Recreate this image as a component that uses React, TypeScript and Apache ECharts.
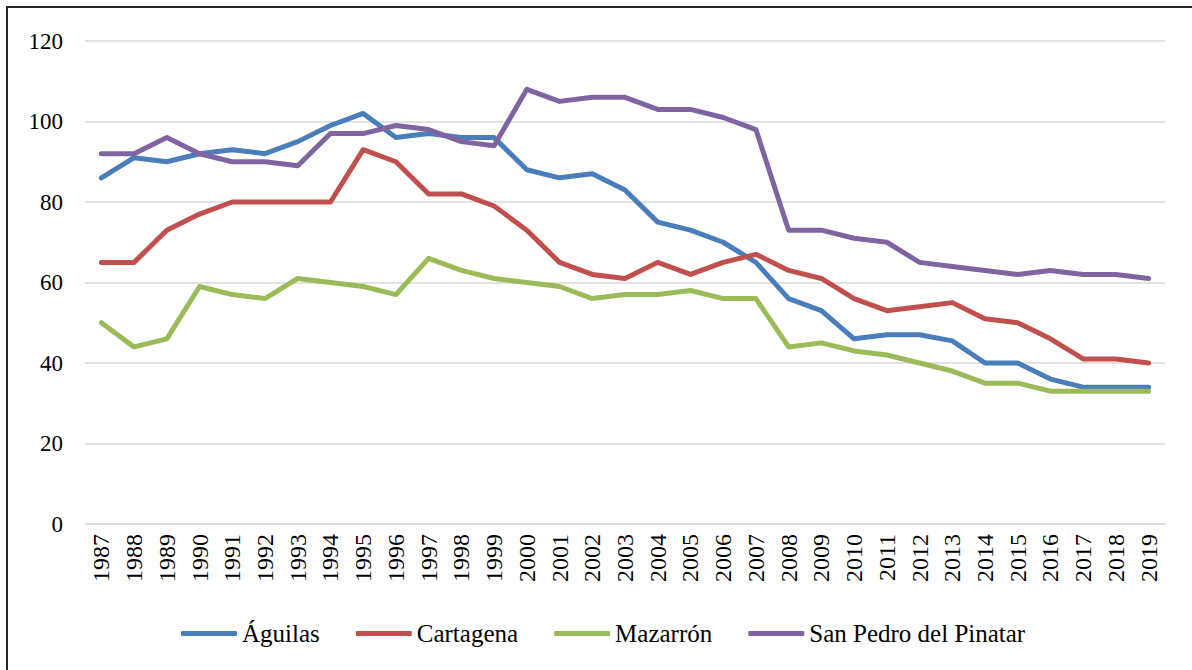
import React, { useEffect, useRef } from "react";
import * as echarts from "echarts";

const years = [
  "1987", "1988", "1989", "1990", "1991", "1992", "1993", "1994", "1995", "1996", "1997",
  "1998", "1999", "2000", "2001", "2002", "2003", "2004", "2005", "2006", "2007", "2008",
  "2009", "2010", "2011", "2012", "2013", "2014", "2015", "2016", "2017", "2018", "2019",
];

const aguilas = [86, 91, 90, 92, 93, 92, 95, 99, 102, 96, 97, 96, 96, 88, 86, 87, 83, 75, 73, 70, 65, 56, 53, 46, 47, 47, 45.5, 40, 40, 36, 34, 34, 34];
const cartagena = [65, 65, 73, 77, 80, 80, 80, 80, 93, 90, 82, 82, 79, 73, 65, 62, 61, 65, 62, 65, 67, 63, 61, 56, 53, 54, 55, 51, 50, 46, 41, 41, 40];
const mazarron = [50, 44, 46, 59, 57, 56, 61, 60, 59, 57, 66, 63, 61, 60, 59, 56, 57, 57, 58, 56, 56, 44, 45, 43, 42, 40, 38, 35, 35, 33, 33, 33, 33];
const sanPedro = [92, 92, 96, 92, 90, 90, 89, 97, 97, 99, 98, 95, 94, 108, 105, 106, 106, 103, 103, 101, 98, 73, 73, 71, 70, 65, 64, 63, 62, 63, 62, 62, 61];

const seriesNames = ["Águilas", "Cartagena", "Mazarrón", "San Pedro del Pinatar"];
const seriesColors = ["#4a7ebb", "#c0504d", "#9bbb59", "#8064a2"];
const seriesData = [aguilas, cartagena, mazarron, sanPedro];

const FONT = "Liberation Serif";

export default function App() {
  const ref = useRef<HTMLDivElement>(null);

  useEffect(() => {
    if (!ref.current) return;
    const chart = echarts.init(ref.current, undefined, { renderer: "svg" });
    chart.setOption({
      animation: false,
      backgroundColor: "#ffffff",
      textStyle: { fontFamily: FONT },
      grid: { left: 85, right: 27, top: 41, bottom: 146, containLabel: false },
      graphic: [
        {
          type: "rect",
          shape: { x: 7, y: 7, width: 1200, height: 700 },
          style: { fill: "none", stroke: "#262626", lineWidth: 2 },
          silent: true,
        },
      ],
      legend: {
        data: seriesNames,
        left: 176,
        top: 616,
        icon: "roundRect",
        itemWidth: 56,
        itemHeight: 5,
        itemGap: 36,
        formatter: "{t|{name}}",
        textStyle: {
          fontFamily: FONT,
          fontSize: 25,
          color: "#000",
          rich: { t: { fontFamily: FONT, fontSize: 25, color: "#000" } },
        },
      },
      xAxis: {
        type: "category",
        data: years,
        boundaryGap: true,
        axisLine: { show: true, lineStyle: { color: "#d9d9d9", width: 1.5 } },
        axisTick: { show: false },
        axisLabel: {
          interval: 0,
          rotate: 90,
          margin: 10,
          formatter: "{t|{value}}",
          fontFamily: FONT,
          fontSize: 24,
          color: "#000",
          rich: { t: { fontFamily: FONT, fontSize: 24, color: "#000" } },
        },
      },
      yAxis: {
        type: "value",
        min: 0,
        max: 120,
        interval: 20,
        axisLine: { show: false },
        axisTick: { show: false },
        splitLine: { show: true, lineStyle: { color: "#d9d9d9", width: 1.5 } },
        axisLabel: {
          margin: 22,
          formatter: "{t|{value}}",
          fontFamily: FONT,
          fontSize: 23,
          color: "#000",
          rich: { t: { fontFamily: FONT, fontSize: 23, color: "#000" } },
        },
      },
      series: seriesNames.map((name, i) => ({
        name,
        type: "line",
        data: seriesData[i],
        symbol: "none",
        showSymbol: false,
        color: seriesColors[i],
        lineStyle: { color: seriesColors[i], width: 5, cap: "round", join: "round" },
        itemStyle: { color: seriesColors[i] },
      })),
    });
    return () => chart.dispose();
  }, []);

  return (
    <div
      ref={ref}
      style={{ position: "absolute", left: 0, top: 0, width: 1192, height: 670 }}
    />
  );
}
